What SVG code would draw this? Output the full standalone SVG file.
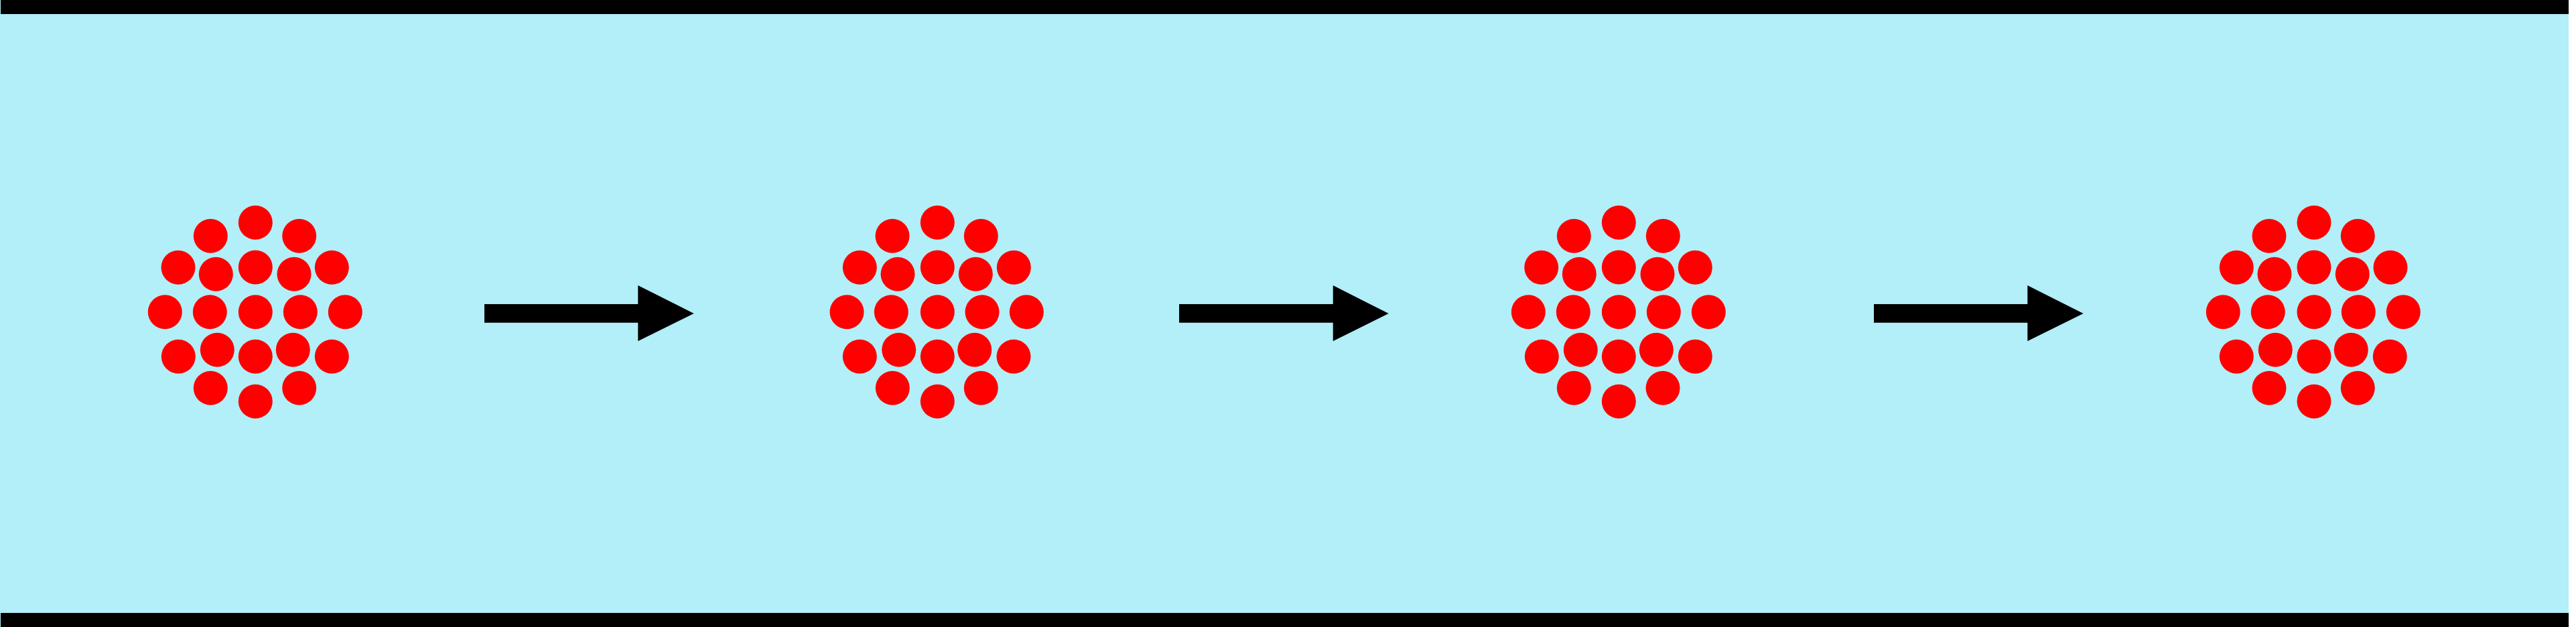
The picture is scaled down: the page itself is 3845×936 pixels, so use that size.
<svg xmlns="http://www.w3.org/2000/svg" width="3845" height="936" viewBox="0 0 3845 936">
<style>
.bg{fill:#b2eff8}
.bar{fill:#000}
.p{fill:#ff0000}
.arr{fill:#000}
</style>
<rect x="0" y="0" width="3845" height="936" fill="#ffffff"/>
<rect class="bg" x="0" y="0" width="3834" height="936"/>
<rect class="bar" x="1" y="0" width="3833" height="21"/>
<rect class="bar" x="1" y="915" width="3833" height="21"/>
<g id="cluster1">
<circle class="p" cx="381.3" cy="332.3" r="25.5"/>
<circle class="p" cx="314.3" cy="352.3" r="25.5"/>
<circle class="p" cx="446.7" cy="352.3" r="25.5"/>
<circle class="p" cx="266" cy="399.3" r="25.5"/>
<circle class="p" cx="322.3" cy="409.3" r="25.5"/>
<circle class="p" cx="381.3" cy="399" r="25.5"/>
<circle class="p" cx="439" cy="409.3" r="25.5"/>
<circle class="p" cx="495.3" cy="399.3" r="25.5"/>
<circle class="p" cx="246.3" cy="465.7" r="25.5"/>
<circle class="p" cx="313.3" cy="465.7" r="25.5"/>
<circle class="p" cx="381.3" cy="465.7" r="25.5"/>
<circle class="p" cx="448.3" cy="465.7" r="25.5"/>
<circle class="p" cx="515.3" cy="465.7" r="25.5"/>
<circle class="p" cx="266.3" cy="532.3" r="25.5"/>
<circle class="p" cx="324.3" cy="522.3" r="25.5"/>
<circle class="p" cx="381.3" cy="532.3" r="25.5"/>
<circle class="p" cx="437.3" cy="522.3" r="25.5"/>
<circle class="p" cx="495.3" cy="532.3" r="25.5"/>
<circle class="p" cx="314.3" cy="579.3" r="25.5"/>
<circle class="p" cx="381.3" cy="599.3" r="25.5"/>
<circle class="p" cx="446.7" cy="579.3" r="25.5"/>
</g>
<g id="cluster2">
<circle class="p" cx="1399.3" cy="332.3" r="25.5"/>
<circle class="p" cx="1332" cy="352.3" r="25.5"/>
<circle class="p" cx="1464.3" cy="352.3" r="25.5"/>
<circle class="p" cx="1283.3" cy="399.3" r="25.5"/>
<circle class="p" cx="1340" cy="409.3" r="25.5"/>
<circle class="p" cx="1399.3" cy="399" r="25.5"/>
<circle class="p" cx="1456.3" cy="409.3" r="25.5"/>
<circle class="p" cx="1513.3" cy="399.3" r="25.5"/>
<circle class="p" cx="1264" cy="465.7" r="25.5"/>
<circle class="p" cx="1330.3" cy="465.7" r="25.5"/>
<circle class="p" cx="1399.3" cy="465.7" r="25.5"/>
<circle class="p" cx="1466" cy="465.7" r="25.5"/>
<circle class="p" cx="1532.3" cy="465.7" r="25.5"/>
<circle class="p" cx="1283.3" cy="532.3" r="25.5"/>
<circle class="p" cx="1341.7" cy="522.3" r="25.5"/>
<circle class="p" cx="1399.3" cy="532.3" r="25.5"/>
<circle class="p" cx="1454.7" cy="522.3" r="25.5"/>
<circle class="p" cx="1513" cy="532.3" r="25.5"/>
<circle class="p" cx="1332.3" cy="579.3" r="25.5"/>
<circle class="p" cx="1399.3" cy="599.3" r="25.5"/>
<circle class="p" cx="1464.3" cy="579.3" r="25.5"/>
</g>
<g id="cluster3">
<circle class="p" cx="2416.3" cy="332.3" r="25.5"/>
<circle class="p" cx="2349.3" cy="352.3" r="25.5"/>
<circle class="p" cx="2482.3" cy="352.3" r="25.5"/>
<circle class="p" cx="2300.7" cy="399.3" r="25.5"/>
<circle class="p" cx="2357.3" cy="409.3" r="25.5"/>
<circle class="p" cx="2416.3" cy="399" r="25.5"/>
<circle class="p" cx="2474" cy="409.3" r="25.5"/>
<circle class="p" cx="2530.3" cy="399.3" r="25.5"/>
<circle class="p" cx="2281.3" cy="465.7" r="25.5"/>
<circle class="p" cx="2348.3" cy="465.7" r="25.5"/>
<circle class="p" cx="2416.3" cy="465.7" r="25.5"/>
<circle class="p" cx="2483.3" cy="465.7" r="25.5"/>
<circle class="p" cx="2550.3" cy="465.7" r="25.5"/>
<circle class="p" cx="2301.3" cy="532.3" r="25.5"/>
<circle class="p" cx="2359.3" cy="522.3" r="25.5"/>
<circle class="p" cx="2416.3" cy="532.3" r="25.5"/>
<circle class="p" cx="2472.3" cy="522.3" r="25.5"/>
<circle class="p" cx="2530.3" cy="532.3" r="25.5"/>
<circle class="p" cx="2349.3" cy="579.3" r="25.5"/>
<circle class="p" cx="2416.3" cy="599.3" r="25.5"/>
<circle class="p" cx="2482" cy="579.3" r="25.5"/>
</g>
<g id="cluster4">
<circle class="p" cx="3454" cy="332.3" r="25.5"/>
<circle class="p" cx="3387" cy="352.3" r="25.5"/>
<circle class="p" cx="3519.3" cy="352.3" r="25.5"/>
<circle class="p" cx="3338.3" cy="399.3" r="25.5"/>
<circle class="p" cx="3395" cy="409.3" r="25.5"/>
<circle class="p" cx="3454" cy="399" r="25.5"/>
<circle class="p" cx="3511.3" cy="409.3" r="25.5"/>
<circle class="p" cx="3568" cy="399.3" r="25.5"/>
<circle class="p" cx="3318.3" cy="465.7" r="25.5"/>
<circle class="p" cx="3385.3" cy="465.7" r="25.5"/>
<circle class="p" cx="3454" cy="465.7" r="25.5"/>
<circle class="p" cx="3520.3" cy="465.7" r="25.5"/>
<circle class="p" cx="3587.3" cy="465.7" r="25.5"/>
<circle class="p" cx="3338.3" cy="532.3" r="25.5"/>
<circle class="p" cx="3396.3" cy="522.3" r="25.5"/>
<circle class="p" cx="3454" cy="532.3" r="25.5"/>
<circle class="p" cx="3509.3" cy="522.3" r="25.5"/>
<circle class="p" cx="3567.3" cy="532.3" r="25.5"/>
<circle class="p" cx="3387" cy="579.3" r="25.5"/>
<circle class="p" cx="3454" cy="599.3" r="25.5"/>
<circle class="p" cx="3519.3" cy="579.3" r="25.5"/>
</g>
<g id="connectors">
<polygon class="arr" points="723,454 952.3,454 952.3,426 1035.7,468 952.3,509.3 952.3,481.7 723,481.7"/>
<polygon class="arr" points="1760,454 1989.7,454 1989.7,426 2072.7,468 1989.7,509.3 1989.7,481.7 1760,481.7"/>
<polygon class="arr" points="2797,454 3026.3,454 3026.3,426 3109.7,468 3026.3,509.3 3026.3,481.7 2797,481.7"/>
</g>
</svg>
